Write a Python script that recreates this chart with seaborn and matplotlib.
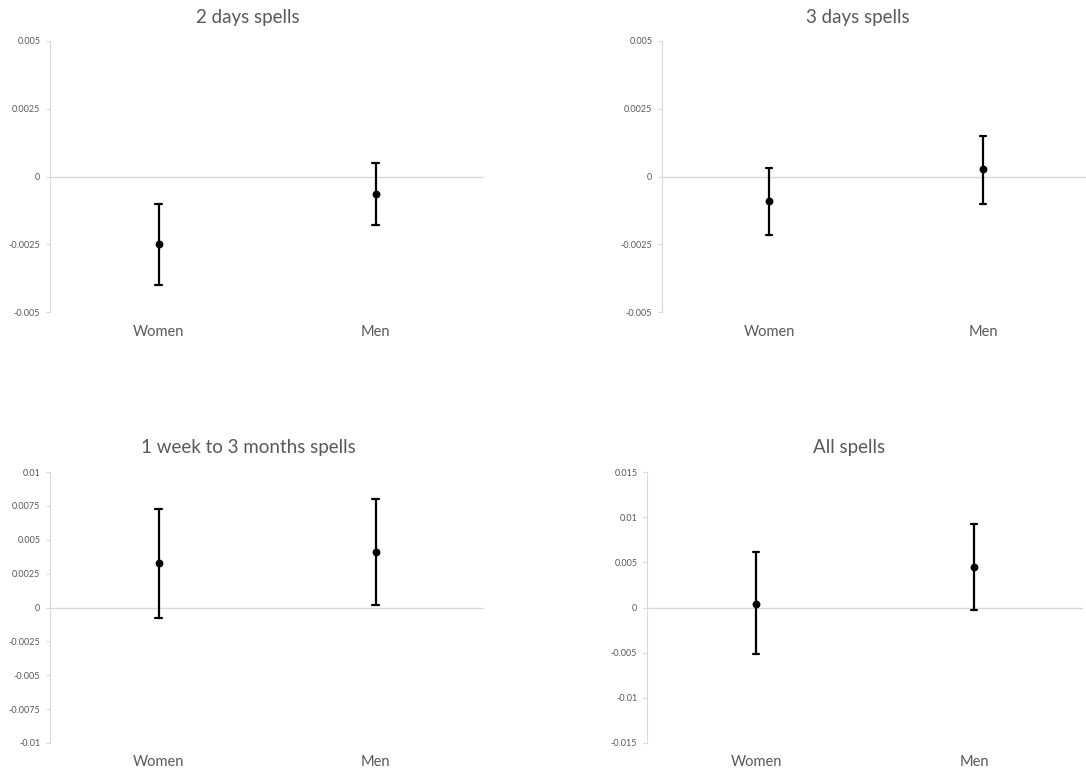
import numpy as np
import pandas as pd
import matplotlib
matplotlib.use('Agg')
import matplotlib.pyplot as plt
import seaborn as sns

# 데이터
groups = ['Women', 'Men']
titles = ['2 days spells', '3 days spells', '1 week to 3 months spells', 'All spells']

est_2d = [-0.0025, -0.00064]
lo_2d = [-0.0040, -0.00178]
hi_2d = [-0.0010, 0.0005]

est_3d = [-0.00092, 0.00027]
lo_3d = [-0.00215, -0.0010]
hi_3d = [0.00033, 0.0015]

est_wk = [0.00325, 0.00409]
lo_wk = [-0.00081, 0.00017]
hi_wk = [0.00724, 0.00798]

est_all = [0.00044, 0.00443]
lo_all = [-0.00517, -0.00033]
hi_all = [0.0061, 0.0092]

ticks_small = [-0.005, -0.0025, 0, 0.0025, 0.005]
labels_small = ['-0.005', '-0.0025', '0', '0.0025', '0.005']
ticks_wk = [-0.01, -0.0075, -0.005, -0.0025, 0, 0.0025, 0.005, 0.0075, 0.01]
labels_wk = ['-0.01', '-0.0075', '-0.005', '-0.0025', '0', '0.0025', '0.005', '0.0075', '0.01']
ticks_all = [-0.015, -0.01, -0.005, 0, 0.005, 0.01, 0.015]
labels_all = ['-0.015', '-0.01', '-0.005', '0', '0.005', '0.01', '0.015']

sns.set_style('white')
plt.rcParams['font.family'] = ['Lato', 'DejaVu Sans']

GRAY_TXT = '#595959'
GRAY_LN = '#d9d9d9'

fig = plt.figure(figsize=(10.86, 7.73), dpi=100)

# 패널 위치 (픽셀 기준으로 잡음)
W, H = 1086, 773
boxes = [(50, 41, 434, 271), (662, 41, 428, 271), (50, 472, 434, 271), (647, 472, 436, 271)]
title_pos = [(248, 17), (858, 17), (248, 447), (849, 447)]

panels = [
    (est_2d, lo_2d, hi_2d, ticks_small, labels_small),
    (est_3d, lo_3d, hi_3d, ticks_small, labels_small),
    (est_wk, lo_wk, hi_wk, ticks_wk, labels_wk),
    (est_all, lo_all, hi_all, ticks_all, labels_all),
]

for i, (est, lo, hi, ticks, tlabels) in enumerate(panels):
    x, y, w, h = boxes[i]
    ax = fig.add_axes([x / W, 1 - (y + h) / H, w / W, h / H])

    # 구간 하한/추정값/상한을 한 열에 넣고 중앙값 + 최소~최대 구간으로 그림
    df = pd.DataFrame({
        'group': groups * 3,
        'value': list(lo) + list(est) + list(hi),
    })
    ax.axhline(0, color=GRAY_LN, lw=1, zorder=0)
    sns.pointplot(data=df, x='group', y='value', order=groups,
                  estimator='median', errorbar=lambda v: (v.min(), v.max()),
                  color='black', linestyle='none', markersize=3.6,
                  capsize=0.032, err_kws={'linewidth': 1.6}, ax=ax)

    ax.set_xlim(-0.5, 1.5)
    ax.set_ylim(ticks[0], ticks[-1])
    ax.set_yticks(ticks)
    ax.set_yticklabels(tlabels)
    ax.set_xlabel('')
    ax.set_ylabel('')

    for s in ['top', 'right', 'bottom']:
        ax.spines[s].set_visible(False)
    ax.spines['left'].set_color(GRAY_LN)
    ax.spines['left'].set_linewidth(0.8)

    ax.tick_params(axis='y', labelsize=6.5, colors=GRAY_LN, labelcolor=GRAY_TXT,
                   length=3, width=0.8, direction='out', left=True, pad=4)
    ax.tick_params(axis='x', labelsize=10.5, labelcolor=GRAY_TXT, length=0, pad=9)

    tx, ty = title_pos[i]
    fig.text(tx / W, 1 - ty / H, titles[i], ha='center', va='center',
             fontsize=13.5, color=GRAY_TXT)

fig.savefig('out.png', dpi=100)
